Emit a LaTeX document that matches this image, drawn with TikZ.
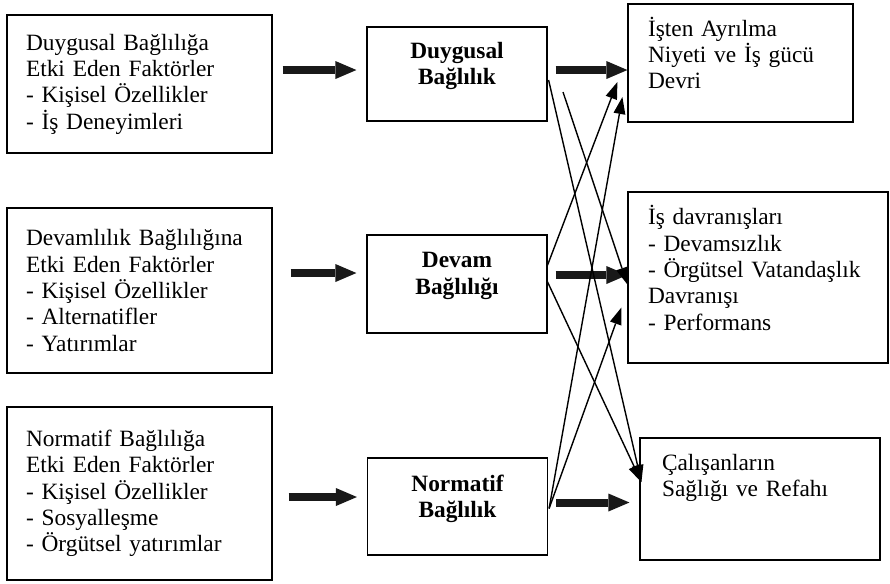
\documentclass[tikz,border=0pt]{standalone}
\usepackage{fontspec}
\setmainfont{Liberation Serif}
\usetikzlibrary{arrows.meta}

\newcommand{\diagfont}{\fontsize{13.3}{15}\selectfont}

\tikzset{
  box/.style={draw, line width=0.7pt, inner sep=0pt, align=left, font=\diagfont},
  midbox/.style={draw, line width=0.7pt, minimum width=3.6cm, align=center, font=\diagfont\bfseries},
  lift/.style={execute at end node={\rule[-#1]{0pt}{0pt}}},
  bigarrow/.style={line width=0.16cm, black!90, -{Triangle[length=0.42cm, width=0.36cm, line width=0pt]}},
  thinarrow/.style={line width=0.8pt, -{Triangle[length=0.34cm, width=0.24cm, line width=0pt]}}
}

\begin{document}
\begin{tikzpicture}[x=0.02cm, y=-0.02cm]
  \useasboundingbox (0,0) rectangle (890,583);

  % Factor boxes
  \node[box, minimum width=5.3cm, minimum height=2.76cm, text width=4.54cm] (l1) at (139.5,84)
    {Duygusal Bağlılığa\\Etki Eden Faktörler\\- Kişisel Özellikler\\- İş Deneyimleri};
  \node[box, minimum width=5.3cm, minimum height=3.3cm, text width=4.54cm] (l2) at (139.5,290.5)
    {Devamlılık Bağlılığına\\Etki Eden Faktörler\\- Kişisel Özellikler\\- Alternatifler\\- Yatırımlar};
  \node[box, minimum width=5.3cm, minimum height=3.46cm, text width=4.54cm] (l3) at (139.5,493.5)
    {Normatif Bağlılığa\\Etki Eden Faktörler\\- Kişisel Özellikler\\- Sosyalleşme\\- Örgütsel yatırımlar};

  % Commitment boxes
  \node[midbox, minimum height=1.88cm, lift=12pt] (duy) at (457,74) {Duygusal\\Bağlılık};
  \node[midbox, minimum height=1.96cm, lift=12pt] (dev) at (457,284) {Devam\\Bağlılığı};
  \node[midbox, minimum height=1.94cm, lift=12pt] (nor) at (457.5,506.5) {Normatif\\Bağlılık};

  % Outcome boxes
  \node[box, minimum width=4.5cm, minimum height=2.36cm, text width=3.7cm, lift=11.5pt] (r1) at (740.5,63)
    {İşten Ayrılma\\Niyeti ve İş gücü\\Devri};
  \node[box, minimum width=5.2cm, minimum height=3.42cm, text width=4.4cm, lift=11pt] (r2) at (758,277.5)
    {İş davranışları\\- Devamsızlık\\- Örgütsel Vatandaşlık\\Davranışı\\- Performans};
  \node[box, minimum width=4.8cm, minimum height=2.44cm, text width=3.92cm, lift=27pt] (r3) at (760,499)
    {Çalışanların\\Sağlığı ve Refahı};

  % Thick arrows
  \foreach \from/\to/\dx/\dy/\sh in {l1/duy/10/-14/0.2, l2/dev/18/-17.5/0.2, l3/nor/16/3.5/0.2,
                                    duy/r1/8/-4/0, dev/r2/8/-9/0, nor/r3/8/-4/0.2}{
    \path ([shift={(\dx,\dy)}]\from.east) coordinate (s);
    \draw[bigarrow, shorten >=\sh cm] (s) -- (s -| \to.west);
  }

  % Thin arrows
  \coordinate (duyfree) at (563,92);
  \draw[thinarrow] ([shift={(1,6)}]duy.east) -- ([shift={(2,-17)}]r3.west);
  \draw[thinarrow] (duyfree) -- ([shift={(0,7)}]r2.west);
  \draw[thinarrow] ([shift={(0,-19)}]dev.east) -- ([shift={(-10,19)}]r1.west);
  \draw[thinarrow] ([shift={(0,-2)}]dev.east) -- ([shift={(2,-17)}]r3.west);
  \draw[thinarrow] ([shift={(1,2)}]nor.east) -- ([shift={(-5,34)}]r1.west);
  \draw[thinarrow] ([shift={(1,2)}]nor.east) -- ([shift={(-6,30)}]r2.west);
\end{tikzpicture}
\end{document}
